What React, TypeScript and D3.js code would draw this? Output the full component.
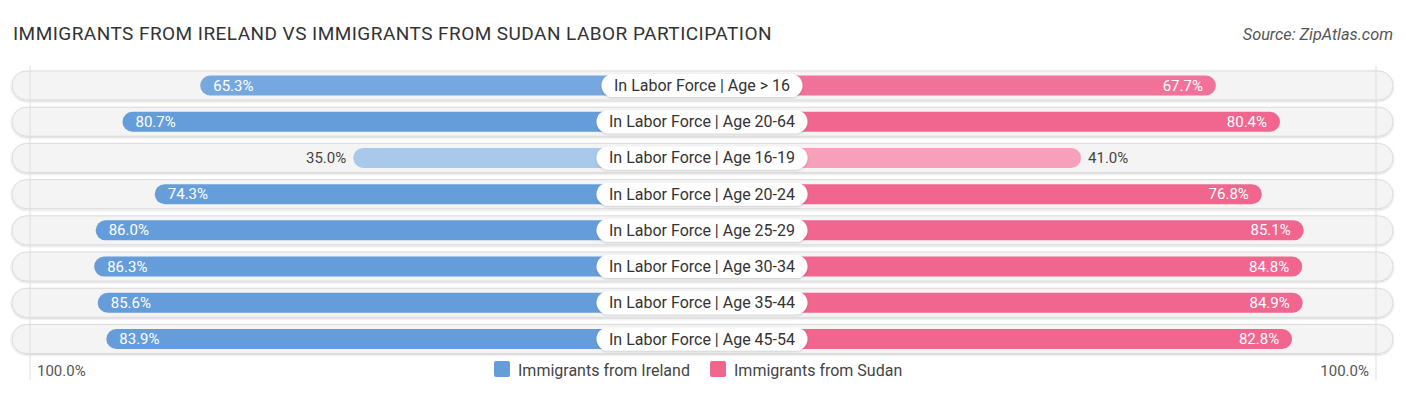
import React from 'react';
import * as d3 from 'd3';

const categories = [
  'In Labor Force | Age > 16',
  'In Labor Force | Age 20-64',
  'In Labor Force | Age 16-19',
  'In Labor Force | Age 20-24',
  'In Labor Force | Age 25-29',
  'In Labor Force | Age 30-34',
  'In Labor Force | Age 35-44',
  'In Labor Force | Age 45-54',
];
const irelandValues = [65.3, 80.7, 35.0, 74.3, 86.0, 86.3, 85.6, 83.9];
const sudanValues = [67.7, 80.4, 41.0, 76.8, 85.1, 84.8, 84.9, 82.8];
const seriesNames = ['Immigrants from Ireland', 'Immigrants from Sudan'];

const WIDTH = 1406;
const HEIGHT = 395;
const CENTER = 702;
const GAP = 172;
const BLUE = '#659ddb';
const PINK = '#f0668f';
const FONT = 'Roboto, sans-serif';

let measureCtx: CanvasRenderingContext2D | null = null;
function textWidth(txt: string, font: string) {
  if (!measureCtx) measureCtx = document.createElement('canvas').getContext('2d');
  if (!measureCtx) return txt.length * 7.7;
  measureCtx.font = font;
  return measureCtx.measureText(txt).width;
}

export default function App() {
  const len = d3.scaleLinear().domain([0, 100]).range([0, 505]);
  const y = d3.scalePoint<string>().domain(categories).range([85.5, 339]);
  const tint = d3.scaleLinear().domain([30, 75]).range([0.5, 1]).clamp(true);
  const barH = 20;
  const trackH = 29;

  const color = (base: string, v: number) =>
    d3.interpolateRgb('#ffffff', base)(tint(v));

  return (
    <div style={{ margin: -8 }}>
      <svg width={WIDTH} height={HEIGHT} style={{ display: 'block', fontFamily: FONT }}>
        <defs>
          <filter id="sh" x="-5%" y="-30%" width="110%" height="160%">
            <feDropShadow dx="0" dy="1" stdDeviation="1.2" floodColor="#000" floodOpacity="0.18" />
          </filter>
        </defs>
        <text x={13} y={40} fontSize={19} letterSpacing={0.45} fill="#333">
          IMMIGRANTS FROM IRELAND VS IMMIGRANTS FROM SUDAN LABOR PARTICIPATION
        </text>
        <text x={1393} y={40} fontSize={16.3} fill="#555" fontStyle="italic" textAnchor="end">
          Source: ZipAtlas.com
        </text>

        {categories.map(c => (
          <rect key={'t' + c} x={12} y={y(c)! - trackH / 2} width={1381} height={trackH}
            rx={trackH / 2} fill="#f4f4f4" stroke="#dcdcdc" strokeWidth={1} filter="url(#sh)" />
        ))}

        <line x1={30} x2={30} y1={66} y2={380} stroke="#dedede" />
        <line x1={1376} x2={1376} y1={66} y2={380} stroke="#dedede" />

        {categories.map((c, i) => {
          const cy = y(c)!;
          const lv = irelandValues[i];
          const rv = sudanValues[i];
          const lx = CENTER - GAP - len(lv);
          const rx = CENTER + GAP + len(rv);
          const lInside = lv >= 50;
          const rInside = rv >= 50;
          const labelW = textWidth(c, '16px Roboto') + 25;
          return (
            <g key={c}>
              <rect x={lx} y={cy - barH / 2} width={CENTER - lx} height={barH} rx={barH / 2}
                fill={color(BLUE, lv)} />
              <rect x={CENTER} y={cy - barH / 2} width={rx - CENTER} height={barH} rx={barH / 2}
                fill={color(PINK, rv)} />
              <text x={lInside ? lx + 13 : lx - 7} y={cy + 5} fontSize={15}
                textAnchor={lInside ? 'start' : 'end'} fill={lInside ? '#fff' : '#444'}>
                {lv.toFixed(1)}%
              </text>
              <text x={rInside ? rx - 13 : rx + 7} y={cy + 5} fontSize={15}
                textAnchor={rInside ? 'end' : 'start'} fill={rInside ? '#fff' : '#444'}>
                {rv.toFixed(1)}%
              </text>
              <rect x={CENTER - labelW / 2} y={cy - 11.5} width={labelW} height={23} rx={11.5}
                fill="#fff" filter="url(#sh)" />
              <text x={CENTER} y={cy + 5.5} fontSize={16} textAnchor="middle" fill="#333">
                {c}
              </text>
            </g>
          );
        })}

        <text x={37} y={376} fontSize={15} fill="#555">100.0%</text>
        <text x={1369} y={376} fontSize={15} fill="#555" textAnchor="end">100.0%</text>

        <rect x={494} y={361} width={16} height={16} rx={2} fill={BLUE} />
        <text x={518} y={375.5} fontSize={16} fill="#444">{seriesNames[0]}</text>
        <rect x={710} y={361} width={16} height={16} rx={2} fill={PINK} />
        <text x={734} y={375.5} fontSize={16} fill="#444">{seriesNames[1]}</text>
      </svg>
    </div>
  );
}
